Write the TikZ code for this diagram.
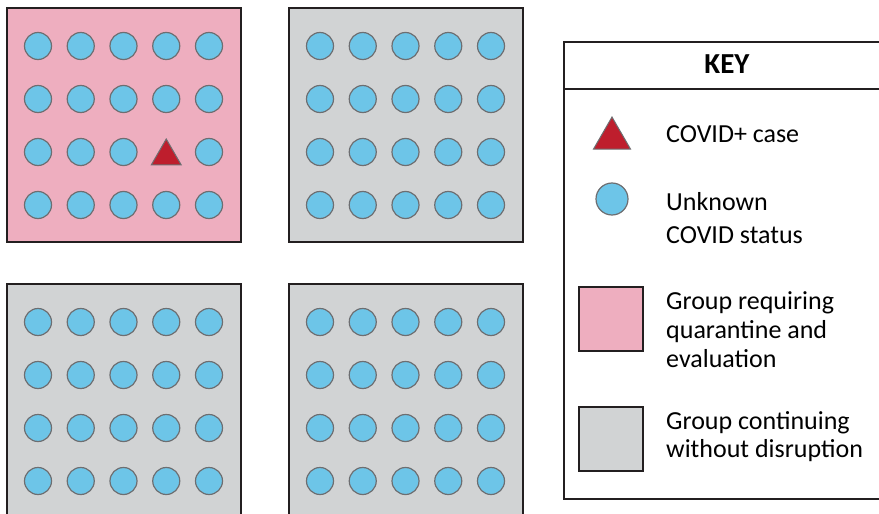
\documentclass[tikz,border=0pt]{standalone}
\usepackage{fontspec}
\setmainfont{Carlito}
\usetikzlibrary{shapes.geometric}
\definecolor{pinkc}{HTML}{EEAEBF}
\definecolor{grayc}{HTML}{D1D3D4}
\definecolor{bluec}{HTML}{6DC5E8}
\definecolor{redc}{HTML}{BE1E2D}
\definecolor{edgec}{HTML}{6D6E71}
\definecolor{linec}{HTML}{231F20}
\begin{document}
\begin{tikzpicture}[x=1pt,y=-1pt,
  groupbox/.style={draw=linec, line width=2pt, minimum width=234pt, minimum height=234pt, inner sep=0pt, outer sep=0pt, anchor=north west},
  person/.style={circle, draw=edgec, line width=1.2pt, fill=bluec, inner sep=0pt},
  casetri/.style={regular polygon, regular polygon sides=3, draw=edgec, line width=1pt, fill=redc, inner sep=0pt},
  keysq/.style={draw=linec, line width=1.5pt, minimum size=64pt, inner sep=0pt},
  keytext/.style={anchor=base west, inner sep=0pt, font=\fontsize{26}{32}\selectfont},
  keyline/.style={draw=linec, line width=2pt}
]
\useasboundingbox (0,0) rectangle (879,514);
\clip (0,0) rectangle (879,514);
\fill[white] (0,0) rectangle (879,514);

% groups
\foreach \g/\gx/\gy/\col in {1/7/8/pinkc, 2/289/8/grayc, 3/7/284/grayc, 4/289/284/grayc} {
  \node[groupbox, fill=\col] (g\g) at (\gx,\gy) {};
  \foreach \i in {0,...,4} {
    \foreach \j in {0,...,3} {
      \ifnum\g\i\j=132 \else
        \node[person, minimum size=27pt] (g\g-\i-\j) at ({\gx+31+42.75*\i},{\gy+38+53*\j}) {};
      \fi
    }
  }
}
\node[casetri, minimum size=34.6pt] (covid) at (166.25,156.3) {};

% key
\draw[keyline] (564,42) rectangle (892,499);
\draw[keyline] (564,89) -- (892,89);
\node[anchor=base, inner sep=0pt, font=\bfseries\fontsize{29}{34}\selectfont] (keytitle) at (727,73.5) {KEY};

\node[casetri, minimum size=42.7pt] (ktri) at (612,138.4) {};
\node[keytext] (ktritext) at (666,142) {COVID+ case};

\node[person, minimum size=32pt] (kcirc) at (612,199) {};
\node[keytext] (kcirctext) at (666,210) {\vtop{\baselineskip=33pt\hbox{Unknown}\hbox{COVID status}}};

\node[keysq, fill=pinkc] (kpink) at (611,319) {};
\node[keytext] (kpinktext) at (666,309) {\vtop{\baselineskip=29pt\hbox{Group requiring}\hbox{quarantine and}\hbox{evaluation}}};

\node[keysq, fill=grayc] (kgray) at (611,439) {};
\node[keytext] (kgraytext) at (666,429) {\vtop{\baselineskip=28pt\hbox{Group continuing}\hbox{without disruption}}};
\end{tikzpicture}
\end{document}
